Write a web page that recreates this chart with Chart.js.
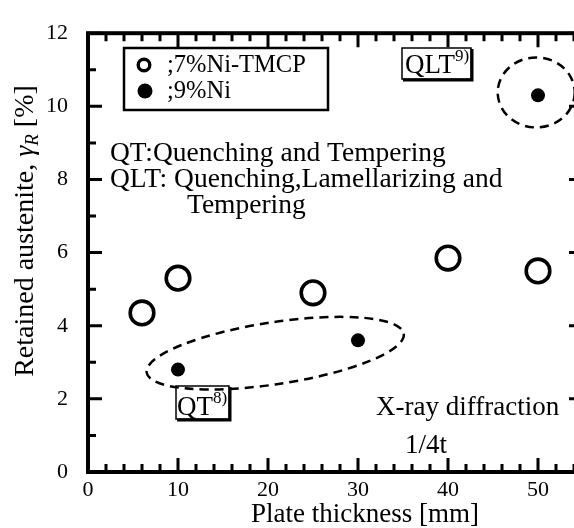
<!DOCTYPE html>
<html>
<head>
<meta charset="utf-8">
<script src="https://cdn.jsdelivr.net/npm/chart.js@4.4.1/dist/chart.umd.min.js"></script>
<style>
  html, body { margin: 0; padding: 0; background: #fff; overflow: hidden; }
  #wrap { width: 600px; height: 528px; }
</style>
</head>
<body>
<div id="wrap"><canvas id="chart" width="600" height="528"></canvas></div>
<script>
// Retained austenite vs plate thickness (X-ray diffraction, 1/4t)

const thicknessTMCP = [6, 10, 25, 40, 50];
const austeniteTMCP = [4.35, 5.3, 4.9, 5.85, 5.5];

const thickness9Ni = [10, 30, 50];
const austenite9Ni = [2.8, 3.6, 10.3];

const xTicks = [0, 10, 20, 30, 40, 50];
const yTicks = [0, 2, 4, 6, 8, 10, 12];

const legendLabels = [";7%Ni-TMCP", ";9%Ni"];
const noteLines = ["QT:Quenching and Tempering", "QLT: Quenching,Lamellarizing and", "Tempering"];

const SERIF = '"Liberation Serif", "Times New Roman", serif';

function toPoints(xs, ys) {
  return xs.map((x, i) => ({ x, y: ys[i] }));
}

function font(size, style) {
  return (style ? style + " " : "") + size + "px " + SERIF;
}

// frame, inward ticks, legend, notes, dashed groups, axis titles
const decorations = {
  id: "decorations",
  afterDatasetsDraw(chart) {
    const { ctx, chartArea: a, scales } = chart;
    const sx = v => scales.x.getPixelForValue(v);
    const sy = v => scales.y.getPixelForValue(v);
    ctx.save();
    ctx.strokeStyle = "#000";
    ctx.fillStyle = "#000";

    // ticks
    ctx.lineWidth = 3;
    ctx.lineCap = "butt";
    ctx.beginPath();
    for (let v = 0; v <= 55; v += 2) {
      const len = v % 10 === 0 ? 14 : 8;
      const x = sx(v);
      ctx.moveTo(x, a.bottom); ctx.lineTo(x, a.bottom - len);
      ctx.moveTo(x, a.top); ctx.lineTo(x, a.top + len);
    }
    for (let v = 0; v <= 12; v += 1) {
      const len = v % 2 === 0 ? 14 : 8;
      const y = sy(v);
      ctx.moveTo(a.left, y); ctx.lineTo(a.left + len, y);
      ctx.moveTo(a.right, y); ctx.lineTo(a.right - len, y);
    }
    ctx.stroke();

    // frame
    ctx.lineWidth = 4;
    ctx.strokeRect(a.left, a.top, a.right - a.left, a.bottom - a.top);

    // dashed groups
    ctx.lineWidth = 2.5;
    ctx.setLineDash([9, 6]);
    const groups = [
      { x: 20.8, y: 3.25, rx: 130, ry: 31, rot: -8.6 },
      { x: 49.8, y: 10.38, rx: 38.5, ry: 35, rot: 0 }
    ];
    groups.forEach(g => {
      ctx.beginPath();
      ctx.ellipse(sx(g.x), sy(g.y), g.rx, g.ry, g.rot * Math.PI / 180, 0, Math.PI * 2);
      ctx.stroke();
    });
    ctx.setLineDash([]);

    // legend
    ctx.lineWidth = 2.5;
    ctx.strokeRect(124, 48, 204, 62);
    ctx.lineWidth = 3.4;
    ctx.beginPath();
    ctx.arc(144, 65, 5.8, 0, Math.PI * 2);
    ctx.stroke();
    ctx.beginPath();
    ctx.arc(145, 91, 7.5, 0, Math.PI * 2);
    ctx.fill();
    ctx.font = font(24.5);
    ctx.textBaseline = "alphabetic";
    ctx.textAlign = "left";
    ctx.fillText(legendLabels[0], 167, 72);
    ctx.fillText(legendLabels[1], 167, 98);

    // notes
    ctx.font = font(27.5);
    ctx.fillText(noteLines[0], 110, 161);
    ctx.fillText(noteLines[1], 110, 187);
    ctx.fillText(noteLines[2], 187, 213);
    ctx.font = font(27);
    ctx.fillText("X-ray diffraction", 376, 415);
    ctx.fillText("1/4t", 405, 453);

    // reference boxes
    function refBox(label, sup, x, base, bx, by, bw, bh) {
      ctx.font = font(27);
      ctx.fillText(label, x, base);
      const w = ctx.measureText(label).width;
      ctx.font = font(17);
      ctx.fillText(sup, x + w, base - 12);
      ctx.lineWidth = 1.5;
      ctx.strokeRect(bx, by, bw, bh);
      ctx.lineWidth = 3;
      ctx.beginPath();
      ctx.moveTo(bx + 1, by + bh + 1); ctx.lineTo(bx + bw + 1, by + bh + 1);
      ctx.lineTo(bx + bw + 1, by + 1);
      ctx.stroke();
    }
    refBox("QLT", "9)", 405, 73, 402, 48, 69, 31);
    refBox("QT", "8)", 177, 415, 176, 386, 53, 33);

    // x title
    ctx.font = font(27);
    ctx.textAlign = "center";
    ctx.fillText("Plate thickness [mm]", 365, 522);

    // y title with italic gamma and subscript R
    ctx.translate(33, 231);
    ctx.rotate(-Math.PI / 2);
    const parts = [
      { t: "Retained austenite, ", f: font(28), dy: 0 },
      { t: "\u03B3", f: font(28, "italic"), dy: 0 },
      { t: "R", f: font(19, "italic"), dy: 5 },
      { t: " [%]", f: font(28), dy: 0 }
    ];
    let total = 0;
    parts.forEach(p => { ctx.font = p.f; p.w = ctx.measureText(p.t).width; total += p.w; });
    ctx.textAlign = "left";
    let cx = -total / 2;
    parts.forEach(p => {
      ctx.font = p.f;
      ctx.fillText(p.t, cx, p.dy);
      cx += p.w;
    });
    ctx.restore();
  }
};

new Chart(document.getElementById("chart"), {
  type: "scatter",
  data: {
    datasets: [
      {
        label: "7%Ni-TMCP",
        data: toPoints(thicknessTMCP, austeniteTMCP),
        pointRadius: 11.8,
        pointHoverRadius: 11.8,
        borderWidth: 3.6,
        pointHoverBorderWidth: 3.6,
        borderColor: "#000",
        backgroundColor: "#fff"
      },
      {
        label: "9%Ni",
        data: toPoints(thickness9Ni, austenite9Ni),
        pointRadius: 7,
        pointHoverRadius: 7,
        borderWidth: 0,
        backgroundColor: "#000"
      }
    ]
  },
  options: {
    responsive: false,
    animation: false,
    events: [],
    layout: { padding: { top: 26, right: 17, left: 0, bottom: 0 } },
    plugins: { legend: { display: false }, tooltip: { enabled: false } },
    scales: {
      x: {
        type: "linear",
        min: 0,
        max: 55,
        afterBuildTicks: s => { s.ticks = xTicks.map(v => ({ value: v })); },
        afterFit: s => { s.height = 56; },
        grid: { display: false, drawTicks: false },
        border: { display: false },
        ticks: { color: "#000", font: { family: SERIF, size: 22 }, padding: 5, maxRotation: 0 }
      },
      y: {
        type: "linear",
        min: 0,
        max: 12,
        afterBuildTicks: s => { s.ticks = yTicks.map(v => ({ value: v })); },
        afterFit: s => { s.width = 88; },
        grid: { display: false, drawTicks: false },
        border: { display: false },
        ticks: { color: "#000", font: { family: SERIF, size: 22 }, padding: 20 }
      }
    }
  },
  plugins: [decorations]
});
</script>
</body>
</html>
